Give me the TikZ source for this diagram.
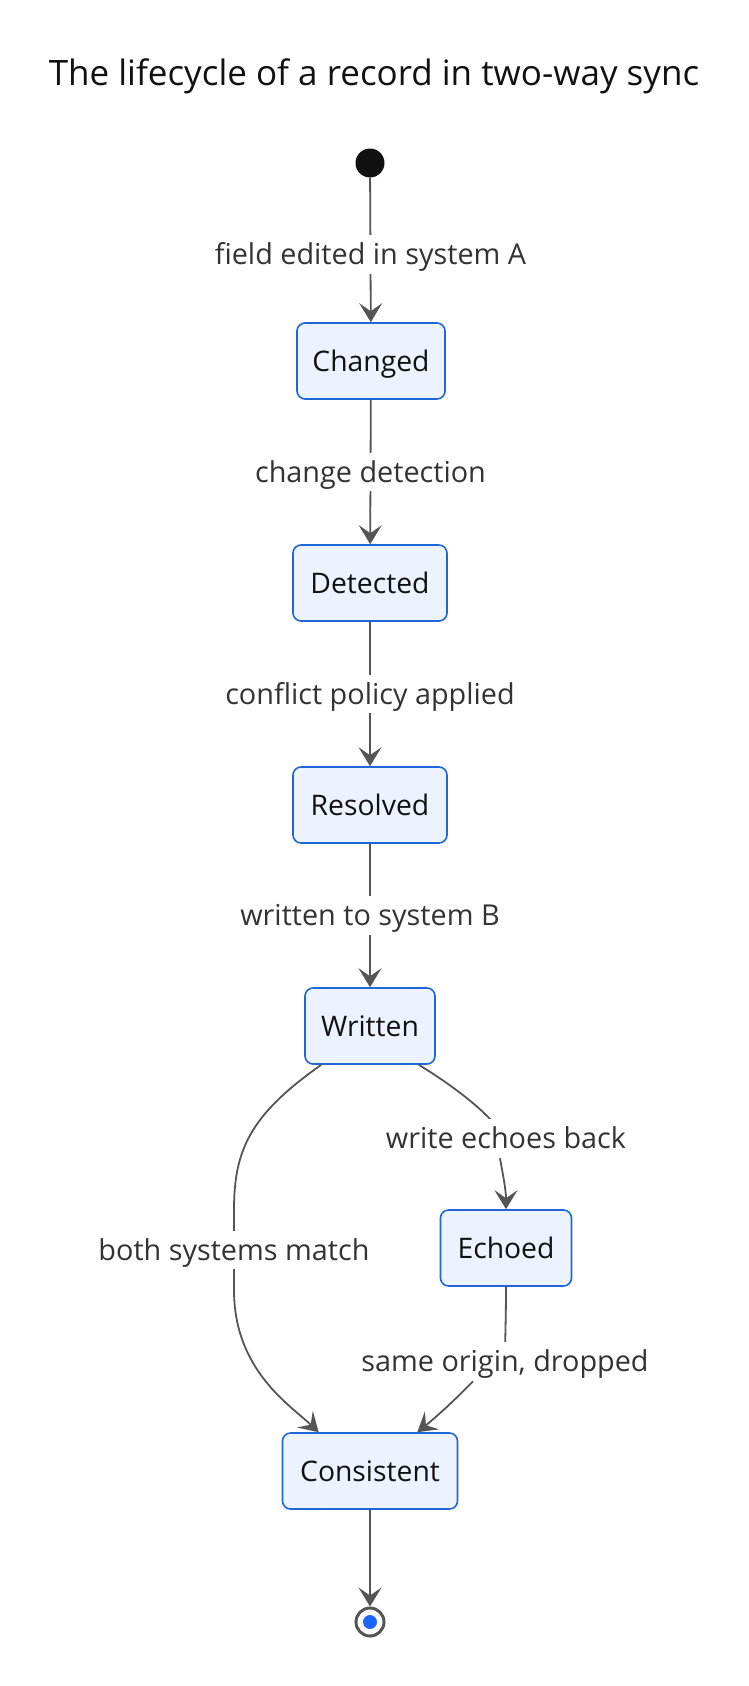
\documentclass[tikz,border=0pt]{standalone}
\usepackage{fontspec}
\setmainfont{Open Sans}
\usetikzlibrary{arrows.meta,positioning,calc}
\definecolor{boxfill}{HTML}{ECF3FE}
\definecolor{boxline}{HTML}{1F66D6}
\definecolor{edgecol}{HTML}{555555}
\definecolor{txt}{HTML}{111111}
\definecolor{lbl}{HTML}{333333}
\definecolor{enddot}{HTML}{1A66FF}
\begin{document}
\begin{tikzpicture}[x=1pt,y=-1pt,
  state/.style={draw=boxline, line width=1.6pt, fill=boxfill, rounded corners=8pt,
    minimum height=76pt, inner sep=0pt, font=\fontsize{28.3}{32}\selectfont, text=txt,
    text height=20.4pt, text depth=0pt},
  edge/.style={draw=edgecol, line width=1.8pt,
    -{Stealth[length=19pt,width=23pt,inset=8pt]}},
  elabel/.style={fill=white, inner xsep=2pt, inner ysep=9pt, font=\fontsize{28.8}{32}\selectfont, text=lbl,
    text height=20.7pt, text depth=0pt}]
\useasboundingbox (0,0) rectangle (748,1686);
\node[font=\fontsize{35}{40}\selectfont, text=txt, text height=25.2pt, text depth=0pt] (title) at (374,73) {The lifecycle of a record in two-way sync};
\node[circle, fill=txt, minimum size=29pt, inner sep=0pt] (start) at (370,163) {};
\node[state, minimum width=148pt] (changed) at (371,361) {Changed};
\node[state, minimum width=154pt] (detected) at (370,583) {Detected};
\node[state, minimum width=154pt] (resolved) at (370,805) {Resolved};
\node[state, minimum width=130pt] (written) at (370,1026) {Written};
\node[state, minimum width=131pt] (echoed) at (506,1248) {Echoed};
\node[state, minimum width=175pt] (consistent) at (370,1471) {Consistent};
\node[circle, draw=edgecol, line width=3pt, fill=white, minimum size=28pt, inner sep=0pt] (end) at (370,1622) {};
\node[circle, fill=enddot, minimum size=14pt, inner sep=0pt] (enddot) at (end.center) {};

\draw[edge] (start) -- node[elabel, pos=0.53] {field edited in system A} (changed);
\draw[edge] (changed) -- node[elabel] {change detection} (detected);
\draw[edge] (detected) -- node[elabel] {conflict policy applied} (resolved);
\draw[edge] (resolved) -- node[elabel] {written to system B} (written);
\draw[edge] ([xshift=17pt]written.south west) .. controls (250,1115) and (234,1150) .. (234,1210)
  -- node[elabel, pos=0.5] {both systems match} (234,1290)
  .. controls (234,1370) and (290,1405) .. ([xshift=37pt]consistent.north west);
\draw[edge, -] ([xshift=-17pt]written.south east) .. controls (460,1090) and (490,1115) .. (506,1138)
  node[elabel] (we) {write echoes back};
\draw[edge] ([xshift=-6pt]we.south) .. controls (503,1175) and (506,1190) .. (echoed.north);
\draw[edge, -] (echoed.south) .. controls (506,1320) and (505,1340) .. (505,1361)
  node[elabel] (so) {same origin, dropped};
\draw[edge] ([xshift=-32pt]so.south) .. controls (455,1400) and (435,1418) .. ([xshift=-41pt]consistent.north east);
\draw[edge] (consistent) -- (end);
\end{tikzpicture}
\end{document}
